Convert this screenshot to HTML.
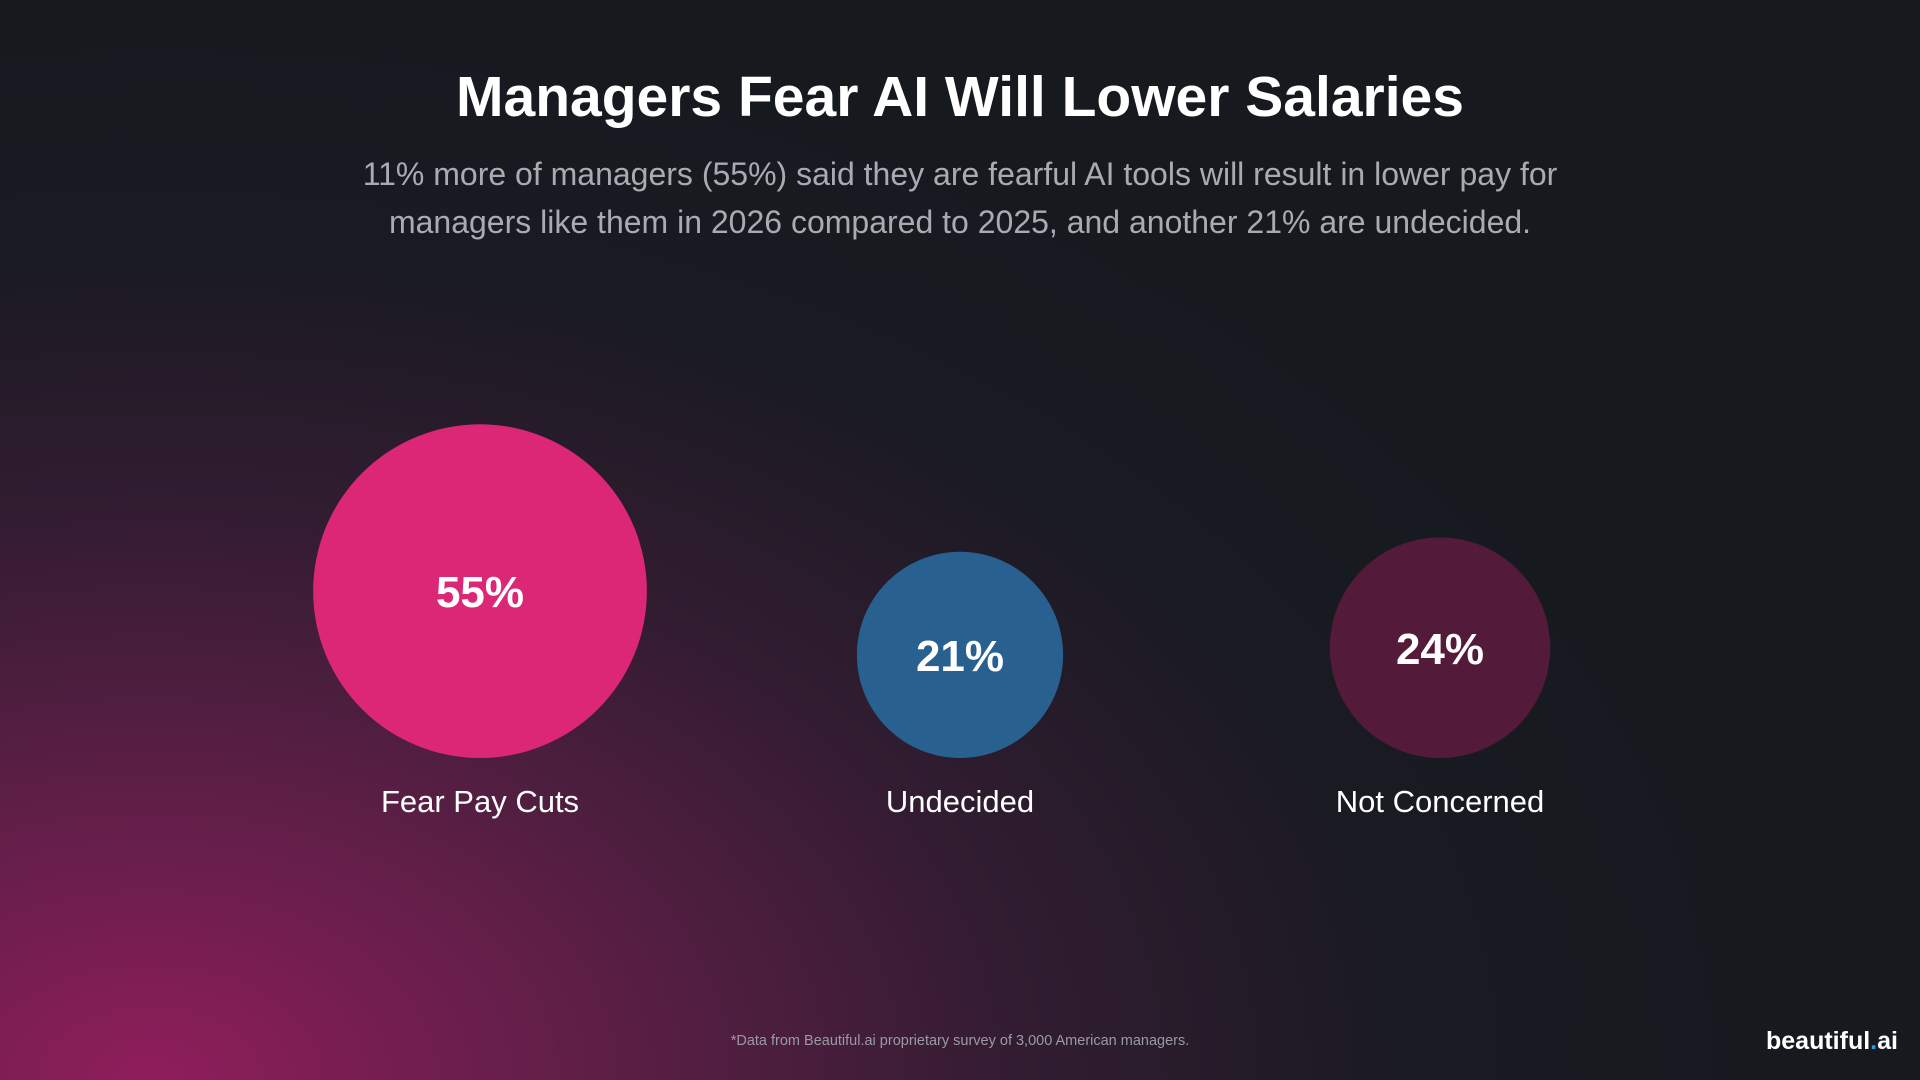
<!DOCTYPE html>
<html><head><meta charset="utf-8">
<style>
html,body{margin:0;padding:0;}
body{width:1920px;height:1080px;overflow:hidden;position:relative;font-family:"Liberation Sans",sans-serif;
background:radial-gradient(ellipse 1900px 1250px at 150px 1080px, rgba(150,30,95,0.95) 0%, rgba(115,32,82,0.8) 22%, rgba(75,30,65,0.55) 45%, rgba(40,28,45,0.25) 65%, rgba(22,26,31,0) 85%), #161a1f;}
#title{position:absolute;top:64px;width:100%;text-align:center;color:#fff;font-weight:bold;font-size:57px;margin:0;}
#subtitle{position:absolute;top:150px;left:300px;width:1320px;text-align:center;color:#a9abb3;font-size:32px;line-height:48px;margin:0;}
#foot{position:absolute;top:1033px;width:100%;text-align:center;color:#9a9aa3;font-size:14.5px;}
#logo{position:absolute;top:1027px;left:1766px;color:#fff;font-weight:bold;font-size:25px;}
svg{position:absolute;left:0;top:0;}
</style></head><body>
<h1 id="title">Managers Fear AI Will Lower Salaries</h1>
<p id="subtitle">11% more of managers (55%) said they are fearful AI tools will result in lower pay for managers like them in 2026 compared to 2025, and another 21% are undecided.</p>
<svg id="chart" width="1920" height="1080"></svg>
<div id="foot">*Data from Beautiful.ai proprietary survey of 3,000 American managers.</div>
<div id="logo">beautiful<span style="color:#2d9cdb">.</span>ai</div>
<script>
const categories = ["Fear Pay Cuts", "Undecided", "Not Concerned"];
const values = [55, 21, 24];
const colors = ["#dc2777", "#286090", "#531a3a"];
const svg = document.getElementById('chart');
const NS = 'http://www.w3.org/2000/svg';
const baseY = 758, k = 22.5;
const xScale = i => 480 + i * 480;
const rScale = v => Math.sqrt(v) * k;
categories.forEach((c, i) => {
  const r = rScale(values[i]);
  const cx = xScale(i), cy = baseY - r;
  const circ = document.createElementNS(NS, 'circle');
  circ.setAttribute('cx', cx); circ.setAttribute('cy', cy); circ.setAttribute('r', r);
  circ.setAttribute('fill', colors[i]);
  
  
  svg.appendChild(circ);
  const t = document.createElementNS(NS, 'text');
  t.setAttribute('x', cx); t.setAttribute('y', cy + 16);
  t.setAttribute('text-anchor', 'middle'); t.setAttribute('fill', '#fff');
  t.setAttribute('font-size', '44'); t.setAttribute('font-weight', 'bold');
  t.setAttribute('font-family', 'Liberation Sans, sans-serif');
  t.textContent = values[i] + '%';
  
  
  svg.appendChild(t);
  const l = document.createElementNS(NS, 'text');
  l.setAttribute('x', cx); l.setAttribute('y', 812);
  l.setAttribute('text-anchor', 'middle'); l.setAttribute('fill', '#fff');
  l.setAttribute('font-size', '31');
  l.setAttribute('font-family', 'Liberation Sans, sans-serif');
  l.textContent = c;
  
  
  svg.appendChild(l);
});
</script>
</body></html>
